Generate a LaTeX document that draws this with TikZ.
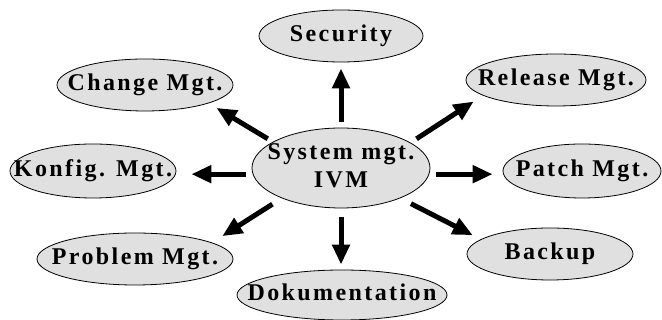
\documentclass[tikz,border=0pt]{standalone}
\usepackage{fontspec}
\setmainfont{Liberation Serif}[LetterSpace=10]
\usetikzlibrary{shapes.geometric,arrows.meta}
\definecolor{bubblegray}{RGB}{224,224,224}
\newcommand{\bubbletext}[1]{\makebox[0pt]{\begin{tabular}{@{}c@{}}#1\end{tabular}}}
\tikzset{
	bubble/.style={ellipse,draw=black,line width=0.8pt,fill=bubblegray,inner sep=0pt,font=\fontsize{24}{28}\selectfont\bfseries},
	arr/.style={line width=5pt,-{Triangle[length=20pt,width=17pt]}}
}
\begin{document}
		\begin{tikzpicture}[x=1pt,y=1pt]
			\useasboundingbox (0,0) rectangle (662,320);
			\node [bubble,minimum width=178,minimum height=80] (sys) at (341,152) {\bubbletext{System mgt.\\IVM}};
			\node [bubble,minimum width=164,minimum height=52] (sec) at (341,284) {\bubbletext{Security}};
			\node [bubble,minimum width=176,minimum height=52] (chg) at (145,235) {\bubbletext{Change Mgt.}};
			\node [bubble,minimum width=180,minimum height=52] (rel) at (556,240) {\bubbletext{Release Mgt.}};
			\node [bubble,minimum width=166,minimum height=54] (kon) at (93,149) {\bubbletext{Konfig. Mgt.}};
			\node [bubble,minimum width=158,minimum height=54] (pat) at (582,149) {\bubbletext{Patch Mgt.}};
			\node [bubble,minimum width=196,minimum height=52] (pro) at (135,61) {\bubbletext{Problem Mgt.}};
			\node [bubble,minimum width=166,minimum height=52] (bak) at (550,66) {\bubbletext{Backup}};
			\node [bubble,minimum width=210,minimum height=50] (dok) at (342,25) {\bubbletext{Dokumentation}};
			% arrows from the centre
			\draw [arr,shorten <=6pt,shorten >=6pt] (sys.north) -- (sys.north |- sec.south);
			\draw [arr,shorten <=9pt,shorten >=5pt] (sys.south) -- (sys.south |- dok.north);
			\draw [arr,shorten <=7pt,shorten >=15pt] (sys.184) -- (sys.184 -| kon.east);
			\draw [arr,shorten <=7pt,shorten >=10pt] (sys.-4) -- (sys.-4 -| pat.west);
			\draw [arr,shorten <=6pt,shorten >=9pt] (sys.159) -- (chg.-16);
			\draw [arr,shorten <=7pt,shorten >=11pt] (sys.20) -- (rel.192);
			\draw [arr,shorten <=11pt,shorten >=12pt] (sys.207) -- (pro.12);
			\draw [arr,shorten <=12pt,shorten >=9pt] (sys.-27) -- (bak.168);
		\end{tikzpicture}
\end{document}
